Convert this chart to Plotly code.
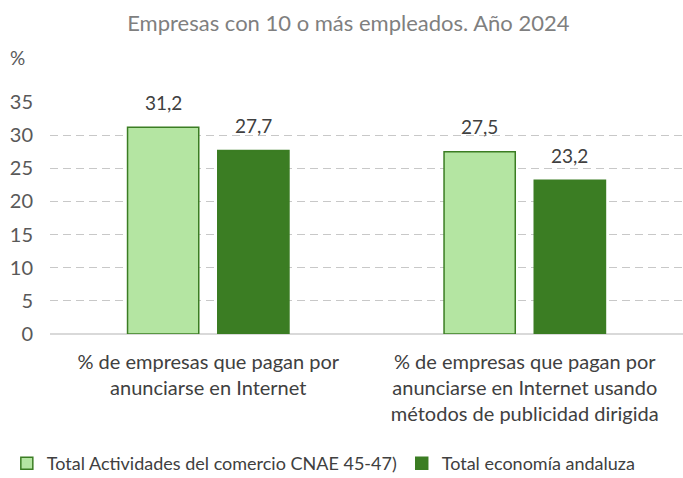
import plotly.graph_objects as go

categories = [
    "% de empresas que pagan por<br>anunciarse en Internet",
    "% de empresas que pagan por<br>anunciarse en Internet usando<br>métodos de publicidad dirigida",
]
comercio = [31.2, 27.5]
andalucia = [27.7, 23.2]
series_names = ["Total Actividades del comercio CNAE 45-47)", "Total economía andaluza"]
y_ticks = [0, 5, 10, 15, 20, 25, 30, 35]

FONT = "Lato, 'Open Sans', sans-serif"
DARK = "#3b7d23"
LIGHT = "#b4e5a2"
TEXT = "#404040"
BAR_W = 0.225
OFFSETS = [-0.255, 0.03]


def fmt(v):
    return f"{v:.1f}".replace(".", ",")


fig = go.Figure()
for values, name, color, off in [(comercio, series_names[0], LIGHT, OFFSETS[0]),
                                 (andalucia, series_names[1], DARK, OFFSETS[1])]:
    fig.add_trace(go.Bar(
        x=categories, y=values, name=name,
        width=BAR_W, offset=off,
        marker=dict(color=color, line=dict(color=DARK, width=1.5)),
    ))
    # data labels a bit higher than plotly's own outside text
    shift = (off + BAR_W / 2) * 316.5
    for cat, v in zip(categories, values):
        fig.add_annotation(x=cat, y=v, text=fmt(v), showarrow=False,
                           xshift=shift, yshift=25, yanchor="middle",
                           font=dict(size=19, color=TEXT))

fig.update_layout(
    width=683, height=478,
    margin=dict(l=50, r=0, t=102, b=144, autoexpand=False),
    paper_bgcolor="white", plot_bgcolor="white",
    font=dict(family=FONT, size=19, color=TEXT),
    title=dict(text="Empresas con 10 o más empleados. Año 2024",
               x=0.51, xref="container", xanchor="center",
               y=1 - 23 / 478, yref="container", yanchor="middle",
               font=dict(size=22, color="#7f7f7f")),
    barmode="group",
    showlegend=True,
    legend=dict(orientation="h", x=0.01, xref="container", xanchor="left",
                y=1 - 445 / 478, yref="container", yanchor="top",
                font=dict(size=18, color=TEXT), itemwidth=30,
                traceorder="normal"),
    xaxis=dict(range=[-0.5, 1.5], showline=False, ticks="", automargin=False,
               tickfont=dict(size=20, color=TEXT), ticklabelstandoff=14),
    yaxis=dict(range=[0, 35], tickvals=y_ticks, showgrid=True, automargin=False,
               gridcolor="#c8c8c8", griddash="8px,5px", gridwidth=1,
               zeroline=True, zerolinecolor="#d9d9d9", zerolinewidth=2,
               tickfont=dict(size=20, color="#595959"), ticklabelstandoff=16),
)
fig.add_annotation(text="%", x=-0.066, xref="paper", y=1.19, yref="paper",
                   showarrow=False, xanchor="left", yanchor="middle",
                   font=dict(size=19, color="#595959"))

fig.write_html("out.html", config={"displayModeBar": False},
               post_script="document.body.style.margin='0';")
